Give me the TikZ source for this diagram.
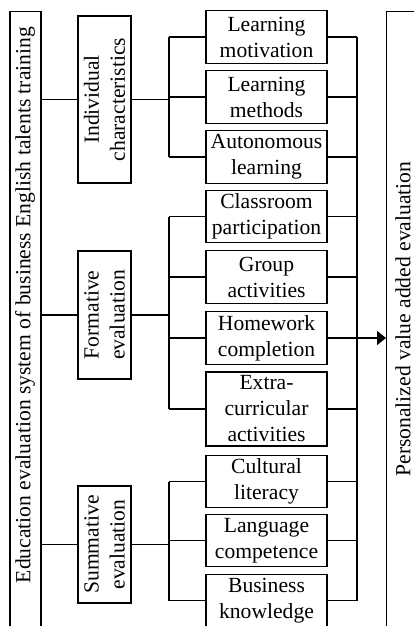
\documentclass[tikz,border=0pt]{standalone}
\usepackage{fontspec}
\setmainfont{Liberation Serif}
\usetikzlibrary{arrows.meta}
\begin{document}
\begin{tikzpicture}[x=0.5pt,y=-0.5pt,
  txt/.style={font=\fontsize{10.8}{13}\selectfont},
  box/.style={draw, line width=0.6pt, inner sep=0pt, align=center, txt},
  sub/.style={box, minimum width=60.5pt, minimum height=26.25pt},
  mid/.style={box, rotate=90, minimum height=26.5pt},
  big/.style={draw, line width=0.6pt, inner sep=0pt, minimum height=320pt},
  lbl/.style={inner sep=0pt, rotate=90, txt},
  conn/.style={line width=0.8pt}
]
\useasboundingbox (0,0) rectangle (414,626);
\clip (0,0) rectangle (414,626);

% outer boxes
\node[big, minimum width=15.5pt, anchor=north] (edu) at (25.5,11) {};
\node[lbl] (edut) at (25,305) {Education evaluation system of business English talents training};
\node[big, minimum width=30pt, anchor=north west] (pv) at (386,11) {};
\node[lbl] (pvt) at (403,319) {Personalized value added evaluation};

% middle boxes
\node[mid, minimum width=83.5pt] (ic) at (104.5,99.5) {Individual\\characteristics};
\node[mid, minimum width=64pt] (fe) at (104.5,315) {Formative\\evaluation};
\node[mid, minimum width=58.5pt] (se) at (104.5,544.5) {Summative\\evaluation};

% sub boxes
\node[sub] (lm) at (266.5,37) {Learning\\motivation};
\node[sub] (lme) at (266.5,97) {Learning\\methods};
\node[sub] (al) at (266.5,157) {Autonomous\\learning};
\node[sub] (cp) at (266.5,216.5) {Classroom\\participation};
\node[sub] (ga) at (266.5,277) {Group\\activities};
\node[sub] (hc) at (266.5,338) {Homework\\completion};
\node[sub, minimum height=37pt] (ea) at (266.5,409) {Extra-\\curricular\\activities};
\node[sub] (cl) at (266.5,481.5) {Cultural\\literacy};
\node[sub] (lc) at (266.5,540.5) {Language\\competence};
\node[sub] (bk) at (266.5,600.5) {Business\\knowledge};

\coordinate (b1) at (169,0);
\coordinate (b2) at (357,0);

% left links
\foreach \m in {ic,fe,se}{
  \draw[conn] (edu.east |- \m.center) -- (\m.north);
  \draw[conn] (\m.south) -- (b1 |- \m.center);
}
% brackets
\draw[conn] (b1 |- lm.west) -- (b1 |- al.west);
\draw[conn] (b1 |- cp.west) -- (b1 |- ea.west);
\draw[conn] (b1 |- cl.west) -- (b1 |- bk.west);
\foreach \n in {lm,lme,al,cp,ga,hc,ea,cl,lc,bk}{
  \draw[conn] (b1 |- \n.west) -- (\n.west);
  \draw[conn] (\n.east) -- (b2 |- \n.east);
}
\draw[conn] (b2 |- lm.east) -- (b2 |- bk.east);
\draw[conn, -{Triangle[length=4.5pt,width=7pt]}] (b2 |- hc.east) -- (pv.west |- hc.east);
\end{tikzpicture}
\end{document}
